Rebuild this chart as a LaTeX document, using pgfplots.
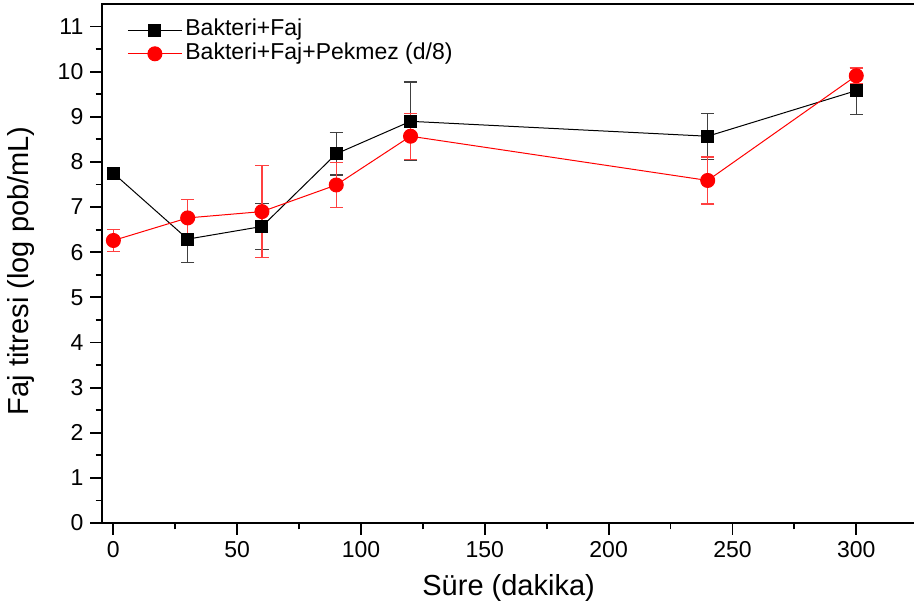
\documentclass[border=0pt]{standalone}
\usepackage{fontspec}
\setmainfont{Liberation Sans}
\usepackage{pgfplots}
\pgfplotsset{compat=1.18}

\begin{document}
\begin{tikzpicture}
\begin{axis}[
    scale only axis,
    width=406.6pt, height=259.5pt,
    xmin=-4.6, xmax=323.8,
    ymin=0, ymax=11.5,
    xtick={0,50,...,300},
    ytick={0,1,...,11},
    minor x tick num=1,
    minor y tick num=1,
    tick pos=left,
    tick align=outside,
    major tick length=5.8pt,
    minor tick length=3.2pt,
    tick style={line width=0.9pt, black},
    axis line style={line width=1pt},
    /pgf/number format/assume math mode=true,
    ticklabel style={font=\fontsize{11.5}{13}\selectfont},
    xlabel={Süre (dakika)},
    ylabel={Faj titresi (log pob/mL)},
    every axis x label/.style={at={(axis description cs:0.5,0)}, anchor=base, yshift=-36pt,
        font=\fontsize{14.5}{16}\selectfont},
    every axis y label/.style={at={(axis description cs:0,0.486)}, xshift=-40.5pt, rotate=90, anchor=center,
        font=\fontsize{14.5}{16}\selectfont},
    legend style={at={(axis description cs:0,1)}, anchor=north west, xshift=9.5pt, yshift=-5pt,
        draw=none, fill=none, font=\fontsize{11.5}{13}\selectfont,
        nodes={inner xsep=1.5pt, inner ysep=0pt, text height=8.8pt, text depth=3pt}},
    legend cell align=left,
    legend image code/.code={\draw[mark repeat=2,mark phase=2] plot coordinates {(0pt,0pt) (13.5pt,0pt) (27pt,0pt)};},
    clip=false,
]

\addplot[black, line width=0.5pt, mark=square*, mark size=3pt,
    mark options={solid, fill=black},
    error bars/.cd, y dir=both, y explicit,
    error bar style={line width=0.6pt, black!75},
    error mark options={rotate=90, mark size=3.3pt, line width=0.6pt, black!75}]
    coordinates {
    (0,7.75) +- (0,0.05)
    (30,6.29) +- (0,0.52)
    (60,6.57) +- (0,0.51)
    (90,8.18) +- (0,0.47)
    (120,8.90) +- (0,0.87)
    (240,8.57) +- (0,0.51)
    (300,9.58) +- (0,0.52)
    };

\addplot[red, line width=0.5pt, mark=*, mark size=3.5pt,
    mark options={solid, fill=red, draw=red},
    error bars/.cd, y dir=both, y explicit,
    error bar style={line width=0.6pt, red!75},
    error mark options={rotate=90, mark size=3.3pt, line width=0.6pt, red!75}]
    coordinates {
    (0,6.26) +- (0,0.24)
    (30,6.76) +- (0,0.40)
    (60,6.90) +- (0,1.02)
    (90,7.49) +- (0,0.50)
    (120,8.57) +- (0,0.51)
    (240,7.59) +- (0,0.52)
    (300,9.91) +- (0,0.17)
    };

\legend{Bakteri+Faj, Bakteri+Faj+Pekmez (d/8)}

\coordinate (sw) at (rel axis cs:0,0);
\coordinate (ne) at (rel axis cs:1,1);
\end{axis}
\pgfresetboundingbox
\path[use as bounding box] ([shift={(-51pt,-43.2pt)}]sw) rectangle ([shift={(-0.6pt,2pt)}]ne);
\end{tikzpicture}
\end{document}
